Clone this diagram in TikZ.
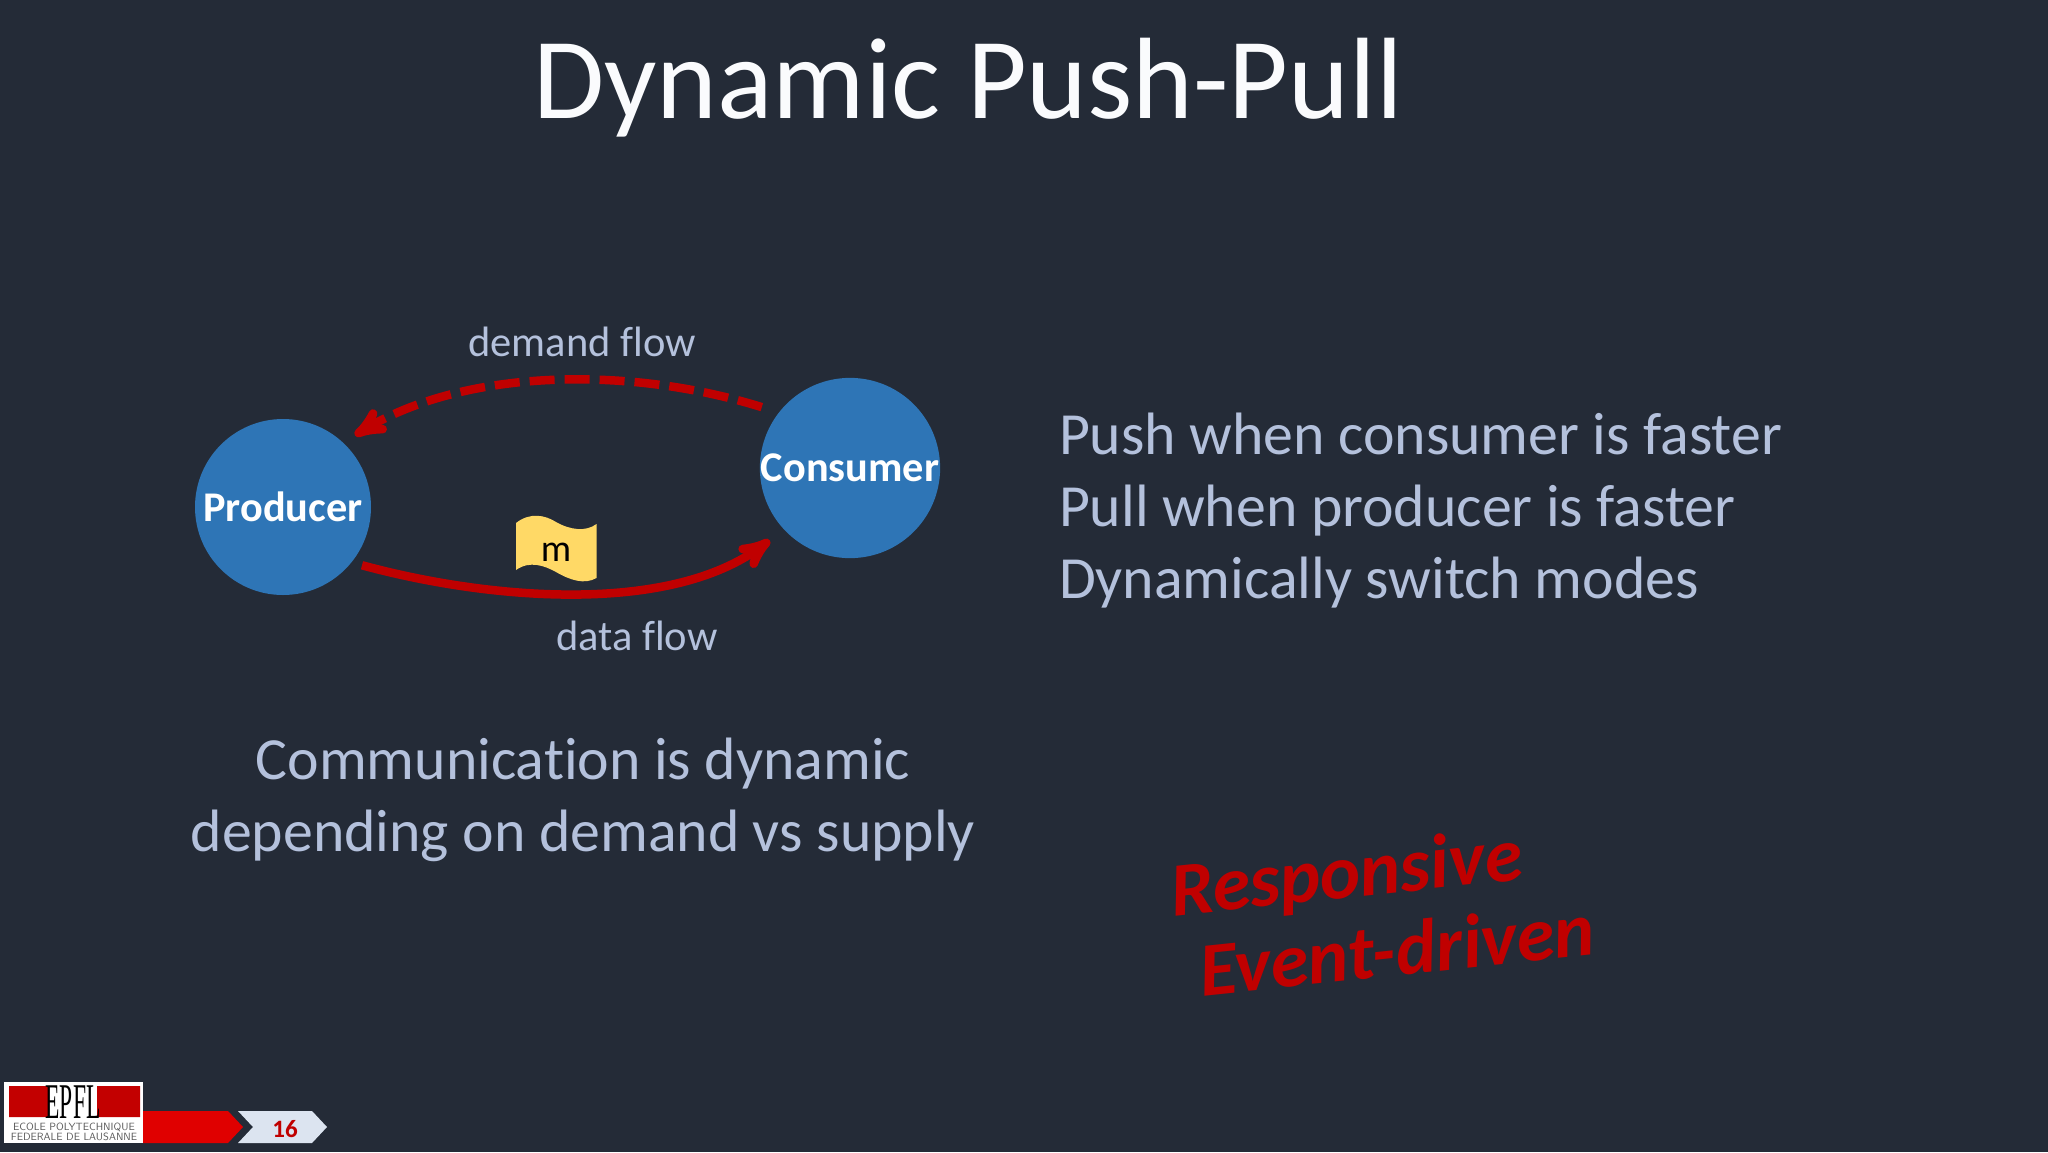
\documentclass[tikz,border=0pt]{standalone}
\usepackage{fontspec}
\setmainfont[Ligatures=NoCommon]{Carlito}
\newfontfamily\logofont{Liberation Serif}
\usetikzlibrary{arrows, positioning}
\definecolor{slidebg}{HTML}{242B37}
\definecolor{bluefill}{HTML}{2E75B6}
\definecolor{flowred}{HTML}{C00000}
\definecolor{bodytext}{HTML}{B4C1DC}
\definecolor{flagyellow}{HTML}{FFD966}
\definecolor{bannerred}{HTML}{E00000}
\definecolor{chevron}{HTML}{DCE4F0}

\begin{document}
\begin{tikzpicture}[x=1pt, y=-1pt]
	\tikzset {>=stealth', inner sep=0pt, outer sep=0pt,
		agent/.style={circle, fill=bluefill, minimum size=176pt, text=white, font=\fontsize{42.3}{48}\selectfont\bfseries},
		flow/.style={->, draw=flowred, line width=8.5pt},
		flowlabel/.style={text=bodytext, font=\fontsize{42.5}{48}\selectfont},
		bodyblock/.style={text=bodytext, font=\fontsize{59.8}{72}\selectfont},
		slogan/.style={text=flowred, rotate=6, font=\fontsize{76.5}{80}\selectfont\bfseries\itshape} }

	\fill[slidebg] (0,0) rectangle (2048,1152);
	\useasboundingbox (0,0) rectangle (2048,1152);

	\node[text=white!94!bodytext, font=\fontsize{115.7}{130}\selectfont, anchor=base] (title) at (968,118) {Dynamic Push-Pull};

	\node[agent] (producer) at (283,507) {Producer};
	\node[agent] (consumer) at (850,468) {Consumer};

	\draw[flow, dashed, dash pattern=on 25pt off 10pt, shorten <=18pt, shorten >=14pt] (consumer.142) .. controls (630,366) and (465,368) .. (producer.47);
	\draw[flow, shorten <=11pt, shorten >=18pt] (producer.-39) .. controls (490,600) and (670,615) .. (consumer.223);

	% message flag
	\fill[flagyellow] (516,523) .. controls (530,512) and (545,515) .. (556,522) .. controls (570,530) and (586,532) .. (596.5,524)
		-- (596.5,578) .. controls (584,585) and (570,580) .. (556,572) .. controls (545,566) and (530,560) .. (516,570) -- cycle;
	\node[font=\fontsize{38}{40}\selectfont, text=black] (msg) at (556,552) {m};

	\node[flowlabel, anchor=base] (demand) at (582,356) {demand flow};
	\node[flowlabel, anchor=base] (data) at (637,650) {data flow};

	\node[bodyblock, align=left, anchor=base west] (modes) at (1059,598) {Push when consumer is faster\\Pull when producer is faster\\Dynamically switch modes};
	\node[bodyblock, align=center, anchor=base] (comm) at (583,851) {Communication is dynamic\\depending on demand vs supply};

	\node[slogan] (resp) at (1347,877) {Responsive};
	\node[slogan] (event) at (1397,949) {Event-driven};

	% footer
	\node[fill=white, minimum width=139pt, minimum height=61pt] (logo) at (73.5,1112.5) {};
	\fill[flowred!90!bannerred] (9,1086) rectangle (48,1117) (97,1086) rectangle (140,1117);
	\node[font=\fontsize{50}{50}\logofont, text=black, xscale=.47] (epfl) at (73,1102) {EPFL};
	\node[font=\fontsize{10.5}{10.5}\sffamily, text=black!65, align=center] (school) at (74,1132) {ECOLE POLYTECHNIQUE\\FEDERALE DE LAUSANNE};
	\fill[bannerred] (143,1111) -- (228,1111) -- (243,1127) -- (228,1143) -- (143,1143) -- cycle;
	\fill[chevron] (238,1111) -- (312,1111) -- (327,1127) -- (312,1143) -- (238,1143) -- (253,1127) -- cycle;
	\node[text=flowred, font=\fontsize{25}{26}\selectfont\bfseries] (pageno) at (285,1129) {16};
\end{tikzpicture}
\end{document}
